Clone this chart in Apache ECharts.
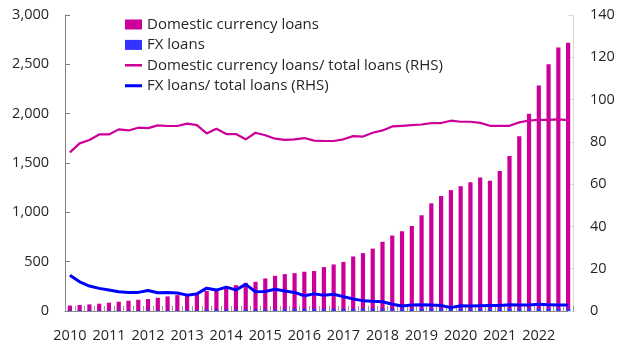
<!DOCTYPE html>
<html>
<head>
<meta charset="utf-8">
<script src="https://cdn.jsdelivr.net/npm/echarts@6/dist/echarts.min.js"></script>
<style>
html,body{margin:0;padding:0;background:#fff;}
#chart{width:618px;height:343px;}
</style>
</head>
<body>
<div id="chart"></div>
<script>
const years = ['2010','2011','2012','2013','2014','2015','2016','2017','2018','2019','2020','2021','2022'];
const quarters = ['Q1','Q2','Q3','Q4'];
const categories = [];
years.forEach(y => quarters.forEach(q => categories.push(y + ' ' + q)));

const domesticLoans = [
  55, 61, 67, 74, 84, 94, 104, 114, 121, 134, 148, 161,
  162, 170, 203, 220, 240, 262, 286, 296, 330, 357, 374, 384,
  398, 405, 445, 472, 498, 553, 587, 632, 702, 765, 808, 862,
  970, 1091, 1165, 1225, 1265, 1306, 1352, 1320, 1420, 1570, 1770, 2000,
  2285, 2500, 2670, 2720
];
const fxLoans = [
  6, 6, 6, 6, 6, 6, 6, 6, 6, 6, 6, 6,
  10, 10, 15, 15, 15, 15, 15, 15, 15, 15, 22, 22,
  22, 22, 22, 22, 22, 22, 25, 25, 25, 25, 25, 25,
  25, 25, 25, 25, 25, 25, 25, 25, 25, 25, 25, 25,
  25, 25, 25, 25
];
const domesticShare = [
  75.0, 79.3, 80.9, 83.5, 83.5, 85.9, 85.4, 86.7, 86.5, 87.8, 87.5, 87.5,
  88.6, 87.9, 84.0, 86.2, 83.7, 83.7, 81.2, 84.3, 83.1, 81.5, 80.9, 81.2,
  81.8, 80.6, 80.4, 80.4, 81.2, 82.7, 82.5, 84.3, 85.4, 87.3, 87.6, 87.9,
  88.2, 88.9, 88.9, 90.0, 89.5, 89.5, 89.0, 87.6, 87.6, 87.6, 89.2, 90.1,
  90.4, 90.4, 90.6, 90.3
];
const fxShare = [
  16.9, 13.8, 11.8, 10.7, 9.9, 9.1, 8.8, 8.8, 9.7, 8.6, 8.8, 8.5,
  7.5, 8.1, 10.8, 9.9, 11.3, 10.0, 12.6, 9.1, 9.2, 10.3, 9.5, 8.8,
  7.2, 8.1, 7.5, 7.9, 6.8, 5.7, 4.9, 4.6, 4.4, 3.2, 2.4, 2.8,
  3.0, 2.8, 2.6, 1.6, 2.5, 2.4, 2.5, 2.6, 2.6, 3.0, 2.8, 2.8,
  3.2, 3.0, 2.8, 2.8
];

const FONT = 'Open Sans';
const TXT = '#262626';
const MAGENTA = '#CC0099';
// thin line legend icon: tiny corner dots keep the 17x10 bounding box, visible bar in the middle
const LINE_ICON_THIN = 'path://M0,0L0.01,0L0,0.01Z M0,3.8L17,3.8L17,6.2L0,6.2Z M17,10L16.99,10L17,9.99Z';
const LINE_ICON_THICK = 'path://M0,0L0.01,0L0,0.01Z M0,3.5L17,3.5L17,6.5L0,6.5Z M17,10L16.99,10L17,9.99Z';

const chart = echarts.init(document.getElementById('chart'), null, {renderer: 'canvas'});
chart.setOption({
  animation: false,
  textStyle: {fontFamily: FONT},
  grid: {left: 65, right: 45, top: 15, bottom: 30.3},
  legend: {
    orient: 'vertical',
    left: 125, top: 17, padding: 0,
    itemWidth: 17, itemHeight: 10, itemGap: 5.4,
    textStyle: {fontFamily: FONT, fontSize: 15, color: TXT, lineHeight: 14},
    data: [
      {name: 'Domestic currency loans', icon: 'rect'},
      {name: 'FX loans', icon: 'rect'},
      {name: 'Domestic currency loans/ total loans (RHS)', icon: LINE_ICON_THIN},
      {name: 'FX loans/ total loans (RHS)', icon: LINE_ICON_THICK}
    ]
  },
  xAxis: {
    type: 'category',
    data: categories,
    boundaryGap: true,
    axisLine: {lineStyle: {color: '#8c8c8c', width: 1}},
    axisTick: {show: true, inside: true, length: 5, interval: 0, lineStyle: {color: '#999'}},
    axisLabel: {
      interval: 3, margin: 17, fontSize: 14.5, color: TXT, fontFamily: FONT,
      formatter: v => v.split(' ')[0]
    },
    splitLine: {show: false}
  },
  yAxis: [
    {
      type: 'value', min: 0, max: 3000, interval: 500,
      axisLine: {show: true, lineStyle: {color: '#7f7f7f'}},
      axisTick: {show: true, inside: true, length: 5, lineStyle: {color: '#7f7f7f'}},
      axisLabel: {
        margin: 16, fontSize: 14.5, color: TXT, fontFamily: FONT,
        formatter: v => v.toLocaleString('en-US')
      },
      splitLine: {show: false}
    },
    {
      type: 'value', min: 0, max: 140, interval: 20, position: 'right',
      axisLine: {show: true, lineStyle: {color: '#d9d9d9'}},
      axisTick: {show: true, inside: true, length: 5, lineStyle: {color: '#d9d9d9'}},
      axisLabel: {margin: 17, fontSize: 14.5, color: TXT, fontFamily: FONT},
      splitLine: {show: false}
    }
  ],
  series: [
    {
      name: 'Domestic currency loans', type: 'bar', yAxisIndex: 0,
      data: domesticLoans, barWidth: 4.2, barGap: '-100%',
      itemStyle: {color: MAGENTA}
    },
    {
      name: 'FX loans', type: 'bar', yAxisIndex: 0,
      data: fxLoans, barWidth: 4.2, barGap: '-100%',
      itemStyle: {color: '#3333FF'}
    },
    {
      name: 'Domestic currency loans/ total loans (RHS)', type: 'line', yAxisIndex: 1,
      data: domesticShare, symbol: 'none', smooth: false,
      lineStyle: {color: MAGENTA, width: 2.2}, itemStyle: {color: MAGENTA}
    },
    {
      name: 'FX loans/ total loans (RHS)', type: 'line', yAxisIndex: 1,
      data: fxShare, symbol: 'none', smooth: false,
      lineStyle: {color: '#0000FF', width: 3}, itemStyle: {color: '#0000FF'}
    }
  ]
});
</script>
</body>
</html>
